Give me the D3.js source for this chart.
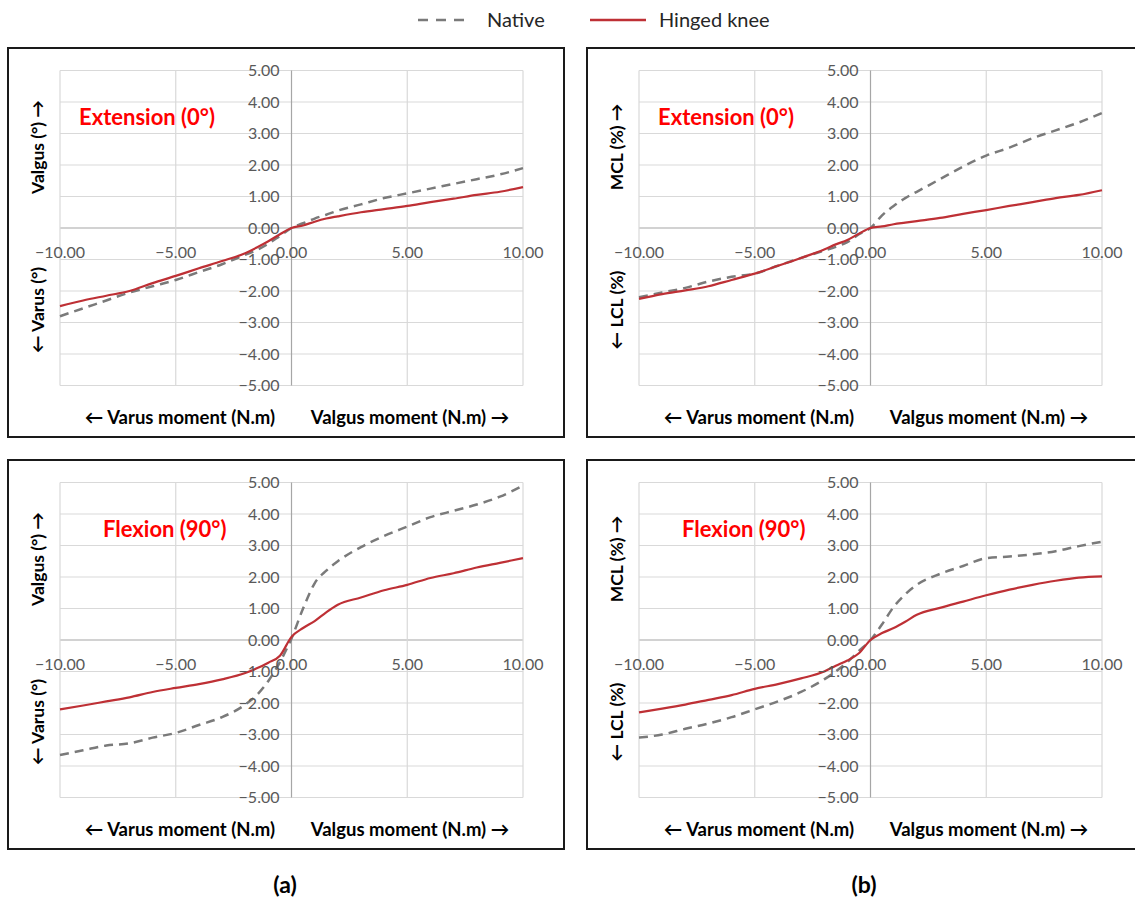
<html>
<head>
<meta charset="utf-8">
<title>Varus / valgus laxity</title>
<script src="https://cdn.jsdelivr.net/npm/d3@7"></script>
<style>
  body { margin: 0; background: #fff; }
  text { font-family: Lato, "Open Sans", sans-serif; }
</style>
</head>
<body>
<script>
// moment steps (N.m) shared by every curve
var moments = [-10, -9, -8, -7, -6, -5, -4, -3, -2, -1.5, -1, -0.5, 0, 0.5, 1, 1.5, 2, 3, 4, 5, 6, 7, 8, 9, 10];

// extension (0 deg) - angle
var nativeExtAngle = [-2.8, -2.55, -2.3, -2.05, -1.85, -1.65, -1.4, -1.15, -0.85, -0.7, -0.5, -0.25, 0, 0.15, 0.3, 0.42, 0.55, 0.75, 0.95, 1.1, 1.25, 1.4, 1.55, 1.7, 1.9];
var hingedExtAngle = [-2.48, -2.3, -2.15, -2.0, -1.75, -1.52, -1.28, -1.05, -0.8, -0.62, -0.42, -0.2, 0, 0.08, 0.2, 0.3, 0.37, 0.5, 0.6, 0.7, 0.82, 0.93, 1.05, 1.15, 1.3];
// extension (0 deg) - ligament
var nativeExtLig = [-2.2, -2.05, -1.9, -1.7, -1.55, -1.45, -1.2, -0.95, -0.72, -0.6, -0.45, -0.2, 0, 0.4, 0.7, 0.95, 1.15, 1.55, 1.95, 2.3, 2.55, 2.85, 3.1, 3.35, 3.65];
var hingedExtLig = [-2.25, -2.1, -1.98, -1.85, -1.65, -1.45, -1.2, -0.95, -0.68, -0.52, -0.38, -0.18, 0, 0.05, 0.12, 0.17, 0.22, 0.32, 0.45, 0.57, 0.7, 0.82, 0.95, 1.05, 1.2];
// flexion (90 deg) - angle
var nativeFlexAngle = [-3.65, -3.5, -3.35, -3.28, -3.1, -2.95, -2.7, -2.45, -2.05, -1.75, -1.3, -0.7, 0.05, 1.0, 1.8, 2.2, 2.5, 2.95, 3.3, 3.6, 3.9, 4.1, 4.3, 4.55, 4.9];
var hingedFlexAngle = [-2.2, -2.08, -1.95, -1.82, -1.65, -1.52, -1.4, -1.25, -1.05, -0.9, -0.72, -0.5, 0.1, 0.38, 0.6, 0.88, 1.12, 1.35, 1.58, 1.75, 1.97, 2.12, 2.3, 2.45, 2.6];
// flexion (90 deg) - ligament
var nativeFlexLig = [-3.1, -3.0, -2.82, -2.65, -2.45, -2.2, -1.95, -1.65, -1.25, -1.0, -0.7, -0.35, 0, 0.5, 1.05, 1.45, 1.75, 2.1, 2.35, 2.6, 2.65, 2.72, 2.82, 2.98, 3.12];
var hingedFlexLig = [-2.3, -2.18, -2.05, -1.9, -1.75, -1.55, -1.4, -1.22, -1.0, -0.82, -0.65, -0.42, 0, 0.22, 0.38, 0.58, 0.8, 1.02, 1.22, 1.42, 1.6, 1.75, 1.88, 1.98, 2.02];

var xTicks = [-10, -5, 0, 5, 10];
var yTicks = [-5, -4, -3, -2, -1, 0, 1, 2, 3, 4, 5];

var nativeColor = "#7a7a7a";
var hingedColor = "#be3035";

var svg = d3.select("body").append("svg")
    .attr("width", 1135)
    .attr("height", 900);

// legend
var legend = svg.append("g");
legend.append("line")
    .attr("x1", 418).attr("x2", 470).attr("y1", 20).attr("y2", 20)
    .attr("stroke", nativeColor).attr("stroke-width", 2.5).attr("stroke-dasharray", "10,8");
legend.append("text").attr("x", 487).attr("y", 27).attr("font-size", 20).attr("fill", "#262626").text("Native");
legend.append("line")
    .attr("x1", 590).attr("x2", 646).attr("y1", 20).attr("y2", 20)
    .attr("stroke", hingedColor).attr("stroke-width", 2.5);
legend.append("text").attr("x", 659).attr("y", 27).attr("font-size", 20).attr("fill", "#262626").text("Hinged knee");

var panels = [
    { x: 8,   y: 48,  label: "Extension (0°)", labelX: 71, up: "Valgus (°) →", down: "← Varus (°)", native: nativeExtAngle, hinged: hingedExtAngle },
    { x: 587, y: 48,  label: "Extension (0°)", labelX: 71, up: "MCL (%) →",    down: "← LCL (%)",   native: nativeExtLig,   hinged: hingedExtLig },
    { x: 8,   y: 460, label: "Flexion (90°)",  labelX: 95, up: "Valgus (°) →", down: "← Varus (°)", native: nativeFlexAngle, hinged: hingedFlexAngle },
    { x: 587, y: 460, label: "Flexion (90°)",  labelX: 95, up: "MCL (%) →",    down: "← LCL (%)",   native: nativeFlexLig,  hinged: hingedFlexLig }
];

var boxW = 556, boxH = 389;

panels.forEach(function(p) {
    var g = svg.append("g").attr("transform", "translate(" + p.x + "," + p.y + ")");

    var x = d3.scaleLinear().domain([-10, 10]).range([52, 515]);
    var y = d3.scaleLinear().domain([-5, 5]).range([337.5, 22.5]);

    // frame
    g.append("rect")
        .attr("x", 0).attr("y", 0).attr("width", boxW).attr("height", boxH)
        .attr("fill", "#fff").attr("stroke", "#1a1a1a").attr("stroke-width", 2);

    // gridlines
    g.selectAll(".hgrid").data(yTicks).enter().append("line")
        .attr("x1", x(-10)).attr("x2", x(10))
        .attr("y1", function(d) { return y(d); }).attr("y2", function(d) { return y(d); })
        .attr("stroke", function(d) { return d === 0 ? "#a6a6a6" : "#d9d9d9"; })
        .attr("stroke-width", 1.2);
    g.selectAll(".vgrid").data(xTicks).enter().append("line")
        .attr("y1", y(-5)).attr("y2", y(5))
        .attr("x1", function(d) { return x(d); }).attr("x2", function(d) { return x(d); })
        .attr("stroke", function(d) { return d === 0 ? "#a6a6a6" : "#d9d9d9"; })
        .attr("stroke-width", 1.2);

    // curves
    var line = d3.line()
        .x(function(d) { return x(d[0]); })
        .y(function(d) { return y(d[1]); })
        .curve(d3.curveMonotoneX);

    g.append("path")
        .datum(d3.zip(moments, p.native))
        .attr("d", line)
        .attr("fill", "none").attr("stroke", nativeColor)
        .attr("stroke-width", 2.5).attr("stroke-dasharray", "9,6");
    g.append("path")
        .datum(d3.zip(moments, p.hinged))
        .attr("d", line)
        .attr("fill", "none").attr("stroke", hingedColor)
        .attr("stroke-width", 2.2);

    // tick labels
    g.selectAll(".ylab").data(yTicks).enter().append("text")
        .attr("x", x(0) - 12)
        .attr("y", function(d) { return y(d) + 5.5; })
        .attr("text-anchor", "end")
        .attr("font-size", 16).attr("fill", "#595959")
        .text(function(d) { return d3.format(".2f")(d); });
    g.selectAll(".xlab").data(xTicks).enter().append("text")
        .attr("x", function(d) { return x(d); })
        .attr("y", y(0) + 30)
        .attr("text-anchor", "middle")
        .attr("font-size", 16).attr("fill", "#595959")
        .text(function(d) { return d3.format(".2f")(d); });

    // panel title
    g.append("text")
        .attr("x", p.labelX).attr("y", 77)
        .attr("font-size", 22).attr("font-weight", "bold").attr("fill", "#ff0000")
        .text(p.label);

    // y axis titles
    g.append("text")
        .attr("transform", "translate(36," + (y(0) - 81) + ") rotate(-90)")
        .attr("text-anchor", "middle")
        .attr("font-size", 17.5).attr("font-weight", "bold").attr("fill", "#000")
        .text(p.up);
    g.append("text")
        .attr("transform", "translate(36," + (y(0) + 82) + ") rotate(-90)")
        .attr("text-anchor", "middle")
        .attr("font-size", 17.5).attr("font-weight", "bold").attr("fill", "#000")
        .text(p.down);

    // x axis titles
    g.append("text")
        .attr("x", 172).attr("y", 376)
        .attr("text-anchor", "middle")
        .attr("font-size", 18.5).attr("font-weight", "bold").attr("fill", "#000")
        .text("← Varus moment (N.m)");
    g.append("text")
        .attr("x", 402).attr("y", 376)
        .attr("text-anchor", "middle")
        .attr("font-size", 18.5).attr("font-weight", "bold").attr("fill", "#000")
        .text("Valgus moment (N.m) →");
});

// sub-figure labels
svg.append("text").attr("x", 285).attr("y", 893).attr("text-anchor", "middle")
    .attr("font-size", 23).attr("font-weight", "bold").text("(a)");
svg.append("text").attr("x", 864).attr("y", 893).attr("text-anchor", "middle")
    .attr("font-size", 23).attr("font-weight", "bold").text("(b)");
</script>
</body>
</html>
